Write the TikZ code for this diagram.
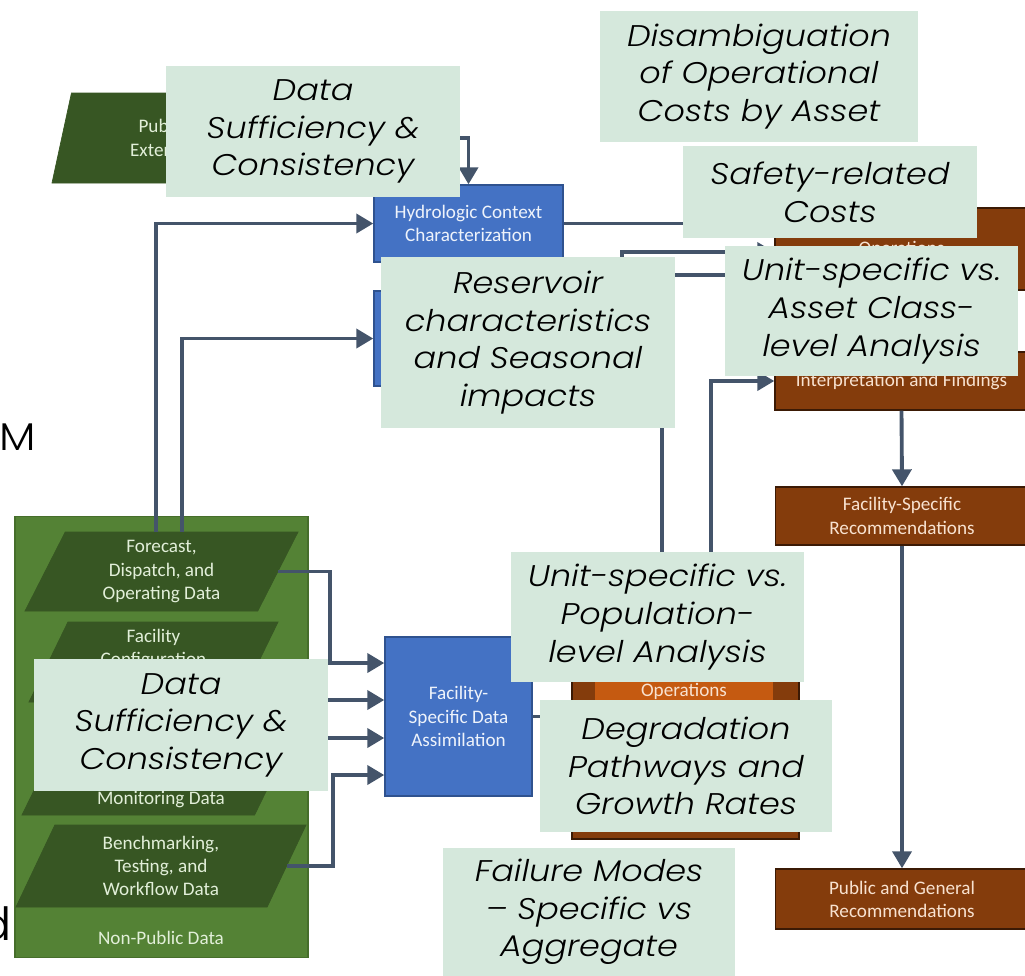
\documentclass[tikz,border=0pt]{standalone}
\usepackage{fontspec}
\setmainfont{Carlito}
\newfontfamily\notefont{Poppins Light}[FakeStretch=1.12]
\usetikzlibrary{shapes.geometric,arrows.meta,positioning,calc}

\definecolor{bluefill}{HTML}{4472C4}
\definecolor{blueline}{HTML}{2F528F}
\definecolor{bluetext}{HTML}{EEF3FB}
\definecolor{brownfill}{HTML}{843C0C}
\definecolor{brownline}{HTML}{3B1A05}
\definecolor{browntext}{HTML}{F8E2D0}
\definecolor{orangefill}{HTML}{C55A11}
\definecolor{darkgreen}{HTML}{375623}
\definecolor{midgreen}{HTML}{548235}
\definecolor{greenline}{HTML}{466E2B}
\definecolor{greentext}{HTML}{E2EFD9}
\definecolor{notegreen}{HTML}{D5E8DC}
\definecolor{flowline}{HTML}{44546A}

\begin{document}
\begin{tikzpicture}[
    x=0.2mm, y=-0.2mm,
    bfont/.style={font=\fontsize{10.9}{13.2}\selectfont},
    blubox/.style={rectangle, draw=blueline, fill=bluefill, line width=0.8pt, inner sep=0pt, align=center, text=bluetext, bfont},
    brnbox/.style={rectangle, draw=brownline, fill=brownfill, line width=0.8pt, inner sep=0pt, align=center, text=browntext, bfont},
    datapara/.style={trapezium, trapezium left angle=57, trapezium right angle=123, trapezium stretches body, draw=darkgreen, fill=darkgreen, inner sep=0pt, align=center, text=greentext, bfont},
    datatext/.style={inner sep=0pt, align=center, text=greentext, bfont},
    note/.style={rectangle, fill=notegreen, inner sep=0pt, align=center, font=\notefont\itshape\fontsize{17}{21.4}\selectfont},
    arr/.style={-{Triangle[length=3.4mm,width=3.8mm]}, line width=2.2pt, draw=flowline}
]
    \useasboundingbox (0,0) rectangle (1025,975);

    % inputs
    \node [datapara, trapezium left angle=62, trapezium right angle=118, minimum width=44mm, minimum height=18mm] (pubext) at (162,138) {Public\\External};
    \node [rectangle, draw=greenline, fill=midgreen, line width=0.8pt, minimum width=58.6mm, minimum height=88.2mm] (nonpub) at (161.5,737) {};
    \node [datatext] (nonpubtxt) at (161,938) {Non-Public Data};
    \node [datapara, minimum width=54.6mm, minimum height=15.8mm] (fcst) at (161.5,571.5) {Forecast,\\Dispatch, and\\Operating Data};
    \node [datapara, minimum width=49.8mm, minimum height=16mm] (cfg) at (153.5,662) {\rule{0pt}{12mm}};
    \node [datatext, anchor=north] (cfgtxt) at ([yshift=-1.4mm]cfg.north) {Facility\\Configuration};
    \node [datapara, minimum width=55.6mm, minimum height=18.6mm] (mon) at (161,768.5) {\rule{0pt}{14mm}};
    \node [datatext, anchor=south] (montxt) at ([yshift=1.4mm]mon.south) {Monitoring Data};
    \node [datapara, minimum width=58mm, minimum height=16.4mm] (bench) at (161,866) {Benchmarking,\\Testing, and\\Workflow Data};

    % processing
    \node [blubox, minimum width=37.8mm, minimum height=15.4mm] (hydro) at (468.5,223.5) {Hydrologic Context\\Characterization};
    \node [blubox, minimum width=37.8mm, minimum height=19mm] (resv) at (468.5,338.5) {};
    \node [blubox, minimum width=29.4mm, minimum height=31.8mm] (fsda) at (458.5,716.5) {Facility-\\Specific Data\\Assimilation};
    \node [brnbox, minimum width=45.4mm, minimum height=37.8mm] (opbox) at (685.5,744.5) {};
    \node [rectangle, fill=orangefill, inner sep=0pt, minimum width=35.6mm, minimum height=7.6mm, text=browntext, bfont] (ophead) at (684,691) {Operations};

    % outputs
    \node [brnbox, minimum width=50.6mm, minimum height=16.4mm] (ops) at (901.5,249) {Operations};
    \node [brnbox, minimum width=50.6mm, minimum height=11.6mm] (interp) at (901.5,381) {Interpretation and Findings};
    \node [brnbox, minimum width=50.6mm, minimum height=11.6mm] (fsrec) at (902,516) {Facility-Specific\\Recommendations};
    \node [brnbox, minimum width=50.6mm, minimum height=12mm] (pubrec) at (902,899) {Public and General\\Recommendations};

    % bends
    \coordinate (busA) at (330,0);
    \coordinate (busB) at (333,0);
    \coordinate (busC) at (318,0);
    \coordinate (busE) at (622,0);
    \coordinate (busF) at (662,0);
    \coordinate (busG) at (711,0);
    \coordinate (in1) at ([yshift=10.7mm]fsda.west);
    \coordinate (in2) at ([yshift=3.3mm]fsda.west);
    \coordinate (in3) at ([yshift=-4.3mm]fsda.west);
    \coordinate (in4) at ([yshift=-11.7mm]fsda.west);
    \coordinate (opsin2) at ([yshift=-0.6mm]ops.west);
    \coordinate (opsin3) at ([yshift=-5.2mm]ops.west);

    \draw [arr] (pubext.right side) -| (hydro.north);
    \draw [arr] ([xshift=-5.2mm]fcst.top side) |- (hydro.west);
    \draw [arr] (fcst.top side) |- (resv.west);
    \draw [arr] (fcst.right side) -| (busA |- in1) -- (in1);
    \draw [arr] (cfg.right side) -| (busC |- in2) -- (in2);
    \draw [arr] (mon.right side) -| (busC |- in3) -- (in3);
    \draw [arr] (bench.right side) -| (busB |- in4) -- (in4);
    \draw [arr] (fsda.east) -- (fsda.east -| opbox.west);
    \draw [arr] (hydro.east) -- (hydro.east -| ops.west);
    \draw [arr] (resv.east) -| (busE |- opsin2) -- (opsin2);
    \draw [arr] (busF |- opbox.north) |- (opsin3);
    \draw [arr] (busG |- opbox.north) |- (interp.west);
    \draw [arr] (interp.south) -- (fsrec.north);
    \draw [arr] (fsrec.south) -- (pubrec.north);

    % notes on top
    \node [note, minimum width=58.8mm, minimum height=26.2mm] (noteA) at (313,131.5) {Data\\Sufficiency \&\\Consistency};
    \node [note, minimum width=63.6mm, minimum height=26.2mm] (noteB) at (759,76.5) {Disambiguation\\of Operational\\Costs by Asset};
    \node [note, minimum width=58.8mm, minimum height=18.4mm] (noteC) at (830,192) {Safety-related\\Costs};
    \node [note, minimum width=58.8mm, minimum height=34.2mm] (noteD) at (528,342.5) {Reservoir\\characteristics\\and Seasonal\\impacts};
    \node [note, minimum width=58.6mm, minimum height=26mm] (noteE) at (871.5,311) {Unit-specific vs.\\Asset Class-\\level Analysis};
    \node [note, minimum width=58.6mm, minimum height=26mm] (noteF) at (657.5,617) {Unit-specific vs.\\Population-\\level Analysis};
    \node [note, minimum width=58.4mm, minimum height=26.4mm] (noteG) at (686,766) {Degradation\\Pathways and\\Growth Rates};
    \node [note, minimum width=58.4mm, minimum height=25.6mm] (noteH) at (589,912) {Failure Modes\\– Specific vs\\Aggregate};
    \node [note, minimum width=58.8mm, minimum height=26.4mm] (noteI) at (181,725) {Data\\Sufficiency \&\\Consistency};

    % cut-off slide text
    \node [anchor=base west, inner sep=0pt, font=\notefont\fontsize{22}{26}\selectfont] (edgeM) at (-1,450) {M};
    \node [anchor=base east, inner sep=0pt, font=\notefont\fontsize{26}{30}\selectfont] (edged) at (12,940) {d};
\end{tikzpicture}
\end{document}
